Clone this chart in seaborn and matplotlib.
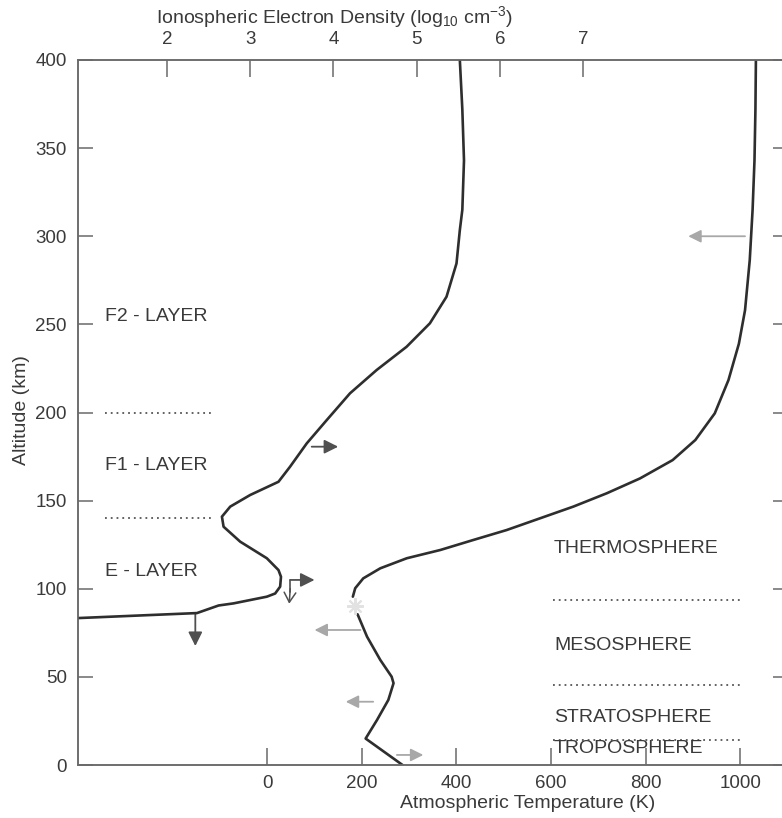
import matplotlib
matplotlib.use("Agg")
import matplotlib.pyplot as plt
import seaborn as sns

# ---------------- data ----------------
# Ionospheric electron density profile (log10 cm^-3) vs altitude (km)
dens_alt = [400, 372, 343, 315, 303.5, 284.6, 265.7, 250.6, 237.3, 224.1, 210.9, 195.7,
            182.5, 169.3, 160.7, 153.2, 146.6, 140.9, 135.2, 126.7, 117.3, 110.6, 106.8,
            101.2, 97.3, 95.5, 91.7, 90.5, 86.2, 83.3]
dens_log = [5.52, 5.55, 5.57, 5.55, 5.52, 5.48, 5.36, 5.16, 4.88, 4.52, 4.20, 3.92,
            3.68, 3.48, 3.34, 3.00, 2.76, 2.66, 2.68, 2.88, 3.20, 3.34, 3.37,
            3.36, 3.30, 3.20, 2.80, 2.62, 2.36, 0.90]

# Atmospheric temperature (K) vs altitude (km) - above the mesopause
temp_up_alt = [400, 372, 343, 315, 286.5, 258, 239, 218.4, 199.5, 184.4, 173, 162.6,
               154.2, 146.6, 140, 133.3, 127.7, 122, 117.3, 111.6, 105.9, 100.3, 95.5]
temp_up_K = [1033, 1032, 1030, 1026, 1020, 1010, 997, 975, 946, 905, 857, 788,
             718, 647, 577, 506, 436, 366, 295, 239, 203, 186, 181]
# below the mesopause
temp_lo_alt = [85.5, 72.8, 59.6, 50.1, 46.4, 36.9, 25.5, 15.0, 0]
temp_lo_K = [191, 211, 239, 263, 267, 256, 232, 208, 286]

temp_ticks = [0, 200, 400, 600, 800, 1000]
dens_ticks = [2, 3, 4, 5, 6, 7]
alt_ticks = [0, 50, 100, 150, 200, 250, 300, 350, 400]

iono_layers = ["F2 - LAYER", "F1 - LAYER", "E - LAYER"]
iono_label_alt = [254.7, 169.8, 109.6]
iono_bounds = [200, 140]

atmo_layers = ["THERMOSPHERE", "MESOSPHERE", "STRATOSPHERE", "TROPOSPHERE"]
atmo_label_alt = [122.6, 68.0, 27.2, 9.6]
atmo_bounds = [93.5, 45.4, 14.2]

# ---------------- style ----------------
sns.set_theme(style="white")
plt.rcParams["font.family"] = ["Liberation Sans", "DejaVu Sans"]
plt.rcParams["mathtext.fontset"] = "custom"
plt.rcParams["mathtext.rm"] = "Liberation Sans"
plt.rcParams["mathtext.it"] = "Liberation Sans:italic"

line_c = "#2e2e2e"
spine_c = "#6a6a6a"
text_c = "#3a3a3a"
dark_arrow = "#505050"
light_arrow = "#a8a8a8"

fig = plt.figure(figsize=(7.82, 8.18), dpi=100)
ax = fig.add_axes([78 / 782, 53 / 818, 709.6 / 782, 705 / 818])
ax.set_xlim(-400, 1100)
ax.set_ylim(0, 400)
ax2 = ax.twiny()
ax2.set_xlim(0.93, 9.46)

# curves
sns.lineplot(x=temp_up_K, y=temp_up_alt, sort=False, estimator=None, ax=ax,
             color=line_c, lw=1.9)
sns.lineplot(x=temp_lo_K, y=temp_lo_alt, sort=False, estimator=None, ax=ax,
             color=line_c, lw=1.9)
sns.lineplot(x=dens_log, y=dens_alt, sort=False, estimator=None, ax=ax2,
             color=line_c, lw=1.9)

# faint smudge at mesopause gap
ax.plot([186], [90], marker=(8, 2, 0), ms=12, color="#e2e2e2", mew=1.5)

# dotted layer boundaries
for b in iono_bounds:
    ax.plot([-342, -114], [b, b], ls=(0, (1, 2.2)), color="#555555", lw=1.3)
for b in atmo_bounds:
    ax.plot([604, 1004], [b, b], ls=(0, (1, 2.2)), color="#555555", lw=1.3)

for lab, a in zip(iono_layers, iono_label_alt):
    ax.text(-342, a, lab, fontsize=14, color=text_c, va="center", ha="left")
for lab, a in zip(atmo_layers, atmo_label_alt):
    ax.text(606, a, lab, fontsize=14, color=text_c, va="center", ha="left")

# arrows
def arrow(x0, y0, x1, y1, color, style="-|>", ms=21, lw=1.3):
    ax.annotate("", xy=(x1, y1), xytext=(x0, y0),
                arrowprops=dict(arrowstyle=style, color=color, lw=lw,
                                shrinkA=0, shrinkB=0, mutation_scale=ms))

arrow(94, 180.6, 150, 180.6, dark_arrow)
arrow(48.6, 105, 100, 105, dark_arrow)
ax.plot([48.6, 48.6], [105, 98], color=dark_arrow, lw=1.2)
arrow(48.6, 100, 46.5, 91.5, dark_arrow, style="->,head_length=0.5,head_width=0.3", ms=14, lw=1.1)
arrow(-152, 86.2, -152, 67.5, dark_arrow)
arrow(197, 76.6, 100, 76.6, light_arrow, ms=19)
arrow(224, 35.9, 166, 35.9, light_arrow, ms=19)
arrow(274, 5.7, 330, 5.7, light_arrow, ms=19)
arrow(1010, 300, 890, 300, light_arrow, ms=19)

# axes, ticks
for a_ in (ax, ax2):
    for s in a_.spines.values():
        s.set_color(spine_c)
        s.set_linewidth(1.1)

ax.set_xticks(temp_ticks)
ax.set_yticks(alt_ticks)
ax.tick_params(axis="x", direction="in", bottom=True, length=12, width=1.1,
               color=spine_c, labelcolor=text_c, labelsize=13.5, pad=7)
ax.tick_params(axis="y", direction="in", left=True, right=True, length=11, width=1.1,
               color=spine_c, labelcolor=text_c, labelsize=13.5, pad=8)
ax2.set_xticks(dens_ticks)
ax2.tick_params(axis="x", direction="in", top=True, length=12, width=1.1,
                color=spine_c, labelcolor=text_c, labelsize=13.5, pad=9)

ax.set_xlabel("Atmospheric Temperature (K)", fontsize=14, color=text_c, va="center")
ax.xaxis.set_label_coords(0.633, -0.054)
ax.set_ylabel("Altitude (km)", fontsize=14, color=text_c, va="center")
ax.yaxis.set_label_coords(-0.079, 0.504)
ax2.set_xlabel(r"Ionospheric Electron Density (log$_{10}$ cm$^{-3}$)", fontsize=14,
               color=text_c, va="center")
ax2.xaxis.set_label_coords(0.361, 1.061)

fig.savefig("out.png", dpi=100)
